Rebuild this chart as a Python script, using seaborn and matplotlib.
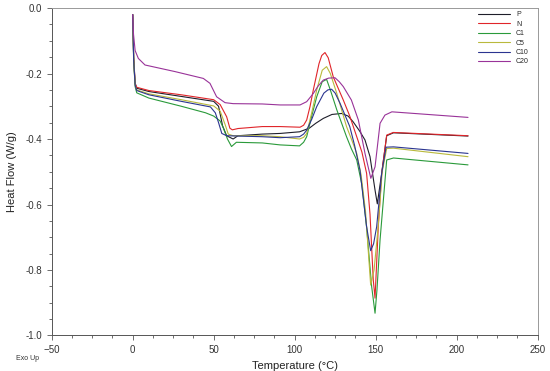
import numpy as np
import pandas as pd
import matplotlib
matplotlib.use('Agg')
import matplotlib.pyplot as plt
import seaborn as sns
from matplotlib.ticker import MultipleLocator

# DSC traces (temperature in degC, heat flow in W/g)
t_P = [0, 0.6, 1.5, 2.5, 10, 30, 50, 53, 55.5, 58, 62, 65, 80, 91, 103, 109, 113, 117.7, 123, 129, 133,
       136, 140, 143.4, 146.5, 149.6, 151, 153.7, 156.8, 161, 207]
h_P = [-0.02, -0.15, -0.23, -0.245, -0.255, -0.27, -0.285, -0.30, -0.36, -0.39, -0.40, -0.39, -0.385,
       -0.383, -0.378, -0.367, -0.352, -0.337, -0.325, -0.322, -0.33, -0.347, -0.375, -0.403, -0.454,
       -0.556, -0.598, -0.505, -0.39, -0.381, -0.391]

t_N = [0, 0.6, 1.5, 2.5, 10, 30, 50, 54, 58, 60, 61.5, 65, 80, 91, 103.3, 105.5, 107.4, 109.5, 111.5,
       115, 116.7, 118.7, 120.7, 123.8, 130, 134, 138.3, 141.5, 144.4, 146.5, 148.5, 149.6, 151.6,
       153.7, 156.8, 160.9, 207]
h_N = [-0.02, -0.15, -0.23, -0.242, -0.252, -0.265, -0.28, -0.295, -0.332, -0.367, -0.372, -0.368,
       -0.362, -0.362, -0.364, -0.358, -0.342, -0.3, -0.25, -0.17, -0.145, -0.136, -0.152, -0.21,
       -0.281, -0.33, -0.393, -0.44, -0.505, -0.63, -0.83, -0.886, -0.668, -0.505, -0.388, -0.38,
       -0.39]

t_C1 = [0, 0.6, 1.5, 2.5, 10, 30, 45, 50, 54, 56, 58.5, 61, 64, 80, 91, 103, 105.5, 107.4, 110.5,
        113.6, 117, 119.7, 122, 126, 132, 135, 138.3, 141.5, 144.4, 147.5, 149.6, 150.8, 152.7, 156.8,
        161, 207]
h_C1 = [-0.02, -0.16, -0.24, -0.259, -0.275, -0.30, -0.32, -0.33, -0.345, -0.367, -0.40, -0.423, -0.41,
        -0.412, -0.418, -0.421, -0.41, -0.393, -0.33, -0.271, -0.225, -0.218, -0.25, -0.311, -0.393,
        -0.43, -0.464, -0.54, -0.67, -0.85, -0.932, -0.86, -0.708, -0.464, -0.458, -0.479]

t_C5 = [0, 0.6, 1.5, 2.5, 10, 30, 50, 54, 57, 59, 62, 80, 91, 103, 105.5, 107.4, 110.5, 113.6, 117,
        119.7, 122, 126, 132, 135, 138.3, 141, 143.7, 146.9, 149, 151.5, 154, 156.8, 161, 207]
h_C5 = [-0.02, -0.16, -0.235, -0.25, -0.262, -0.28, -0.299, -0.315, -0.355, -0.385, -0.39, -0.39, -0.393,
        -0.40, -0.395, -0.383, -0.32, -0.25, -0.19, -0.179, -0.20, -0.261, -0.362, -0.40, -0.444, -0.51,
        -0.62, -0.846, -0.80, -0.67, -0.50, -0.429, -0.428, -0.454]

t_C10 = [0, 0.6, 1.5, 2.5, 10, 30, 48, 51, 53, 55, 58, 80, 91, 103, 105.5, 107.4, 110.5, 113.6, 118,
         120.5, 122.8, 125, 128, 134, 137, 140.3, 144.4, 146.9, 148.7, 150.6, 153.7, 156.4, 161, 207]
h_C10 = [-0.02, -0.16, -0.235, -0.252, -0.265, -0.285, -0.302, -0.32, -0.35, -0.383, -0.39, -0.393,
         -0.396, -0.393, -0.385, -0.373, -0.34, -0.301, -0.26, -0.25, -0.248, -0.26, -0.291, -0.362,
         -0.42, -0.495, -0.668, -0.741, -0.72, -0.668, -0.505, -0.425, -0.424, -0.444]

t_C20 = [0, 0.5, 1.5, 3.5, 7.6, 26, 43.6, 47.7, 51.8, 57, 62, 80, 91, 103.3, 107.4, 111.5, 114.5, 117.7,
         121, 124.9, 127.5, 130, 135, 139.3, 143.4, 147, 149.6, 152.7, 155.7, 160, 207]
h_C20 = [-0.02, -0.08, -0.13, -0.154, -0.174, -0.194, -0.215, -0.23, -0.271, -0.289, -0.292, -0.293,
         -0.296, -0.296, -0.286, -0.261, -0.238, -0.22, -0.214, -0.213, -0.225, -0.24, -0.281, -0.342,
         -0.444, -0.52, -0.485, -0.352, -0.327, -0.317, -0.334]

samples = ['P', 'N', 'C1', 'C5', 'C10', 'C20']
temps = [t_P, t_N, t_C1, t_C5, t_C10, t_C20]
flows = [h_P, h_N, h_C1, h_C5, h_C10, h_C20]
colors = {'P': '#1e1e2a', 'N': '#e0252a', 'C1': '#2a9a3a', 'C5': '#b9b93c',
          'C10': '#2b3590', 'C20': '#993399'}

frames = []
for s, t, h in zip(samples, temps, flows):
    frames.append(pd.DataFrame({'T': t, 'H': h, 'sample': s}))
df = pd.concat(frames, ignore_index=True)

sns.set_style('white')
plt.rcParams['font.family'] = ['Liberation Sans', 'DejaVu Sans']

fig = plt.figure(figsize=(5.5, 3.71), dpi=100)
ax = fig.add_axes([0.094, 0.0957, 0.8836, 0.8827])

sns.lineplot(data=df, x='T', y='H', hue='sample', hue_order=samples, palette=colors,
             estimator=None, sort=False, units='sample', linewidth=0.8, ax=ax, legend=False)

for s in samples:
    ax.plot([], [], color=colors[s], lw=0.8, label=s)

ax.set_xlim(-50, 250)
ax.set_ylim(-1.0, 0.0)
ax.xaxis.set_major_locator(MultipleLocator(50))
ax.xaxis.set_minor_locator(MultipleLocator(12.5))
ax.yaxis.set_major_locator(MultipleLocator(0.2))
ax.yaxis.set_minor_locator(MultipleLocator(0.05))
ax.yaxis.set_major_formatter(matplotlib.ticker.FormatStrFormatter('%.1f'))
ax.tick_params(which='both', direction='out', color='#555555', labelsize=7, labelcolor='#333333',
               bottom=True, left=True)
ax.tick_params(which='major', length=3.5, width=0.6)
ax.tick_params(which='minor', length=2, width=0.6)

for side in ['left', 'bottom']:
    ax.spines[side].set_color('#555555')
    ax.spines[side].set_linewidth(0.7)
for side in ['top', 'right']:
    ax.spines[side].set_color('#999999')
    ax.spines[side].set_linewidth(0.7)

ax.set_xlabel('Temperature (°C)', fontsize=8, color='#222222', labelpad=4)
ax.set_ylabel('Heat Flow (W/g)', fontsize=8, color='#222222', labelpad=6)

ax.legend(loc='upper left', bbox_to_anchor=(0.877, 0.99), frameon=False, fontsize=5,
          handlelength=4.6, handletextpad=0.9, labelspacing=0.35, borderpad=0, borderaxespad=0)

fig.text(16 / 550, 1 - 358 / 371, 'Exo Up', fontsize=5, color='#333333', va='center')

fig.savefig('out.png', dpi=100)
